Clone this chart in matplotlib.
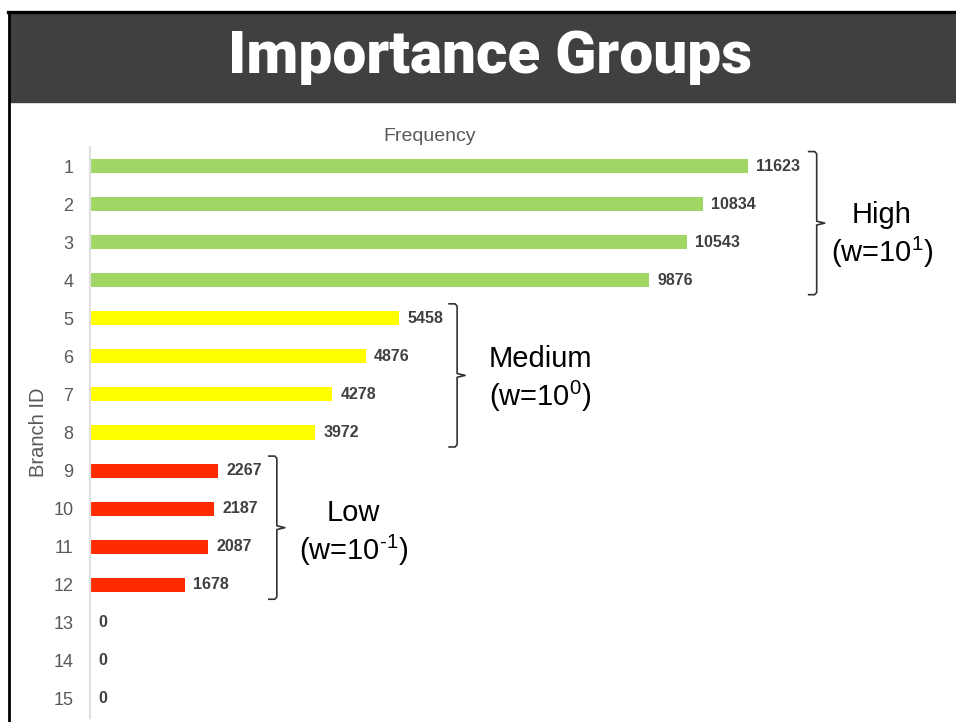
import matplotlib
matplotlib.use("Agg")
import matplotlib.pyplot as plt
from matplotlib.patches import Rectangle
from matplotlib.lines import Line2D

branch_ids = list(range(1, 16))
frequency = [11623, 10834, 10543, 9876, 5458, 4876, 4278, 3972,
             2267, 2187, 2087, 1678, 0, 0, 0]
group_of = ["High"] * 4 + ["Medium"] * 4 + ["Low"] * 4 + [None] * 3

group_names = ["High", "Medium", "Low"]
group_labels = ["High\n(w=10$^{1}$)", "Medium\n(w=10$^{0}$)", "Low\n(w=10$^{\u2010 1}$)"]
group_colors = {"High": "#A0D663", "Medium": "#FFFF00", "Low": "#FF2B00"}

plt.rcParams['font.family'] = ['Liberation Sans', 'DejaVu Sans']
plt.rcParams['mathtext.default'] = 'regular'

W, H = 956, 722
fig = plt.figure(figsize=(W / 100, H / 100), dpi=100)

# slide header and frame
fig.patches.append(Rectangle((10 / W, 1 - 102 / H), 1 - 10 / W, 89 / H,
                             transform=fig.transFigure, color="#404040", zorder=0))
fig.lines.append(Line2D([8 / W, 1], [1 - 12 / H, 1 - 12 / H], transform=fig.transFigure,
                        color="black", lw=2.4))
fig.lines.append(Line2D([9 / W, 9 / W], [1 - 12 / H, 0], transform=fig.transFigure,
                        color="black", lw=2.0))
fig.text(490 / W, 1 - 57 / H, "Importance Groups", color="white", ha="center", va="center",
         fontsize=43.5, fontweight="black", fontstretch="condensed",
         family=["Roboto", "DejaVu Sans"])

ax = fig.add_axes([90 / W, 4 / H, 679 / W, 571 / H])
colors = [group_colors[g] if g else "white" for g in group_of]
ax.barh(branch_ids, frequency, height=0.37, color=colors)
ax.set_xlim(0, 12000)
ax.set_ylim(15.5, 0.5)
ax.set_yticks(branch_ids)
ax.set_yticklabels([str(b) for b in branch_ids])
ax.set_xticks([])
ax.tick_params(axis="y", length=0, pad=12, labelsize=13, labelcolor="#595959")
for side in ["top", "right", "bottom"]:
    ax.spines[side].set_visible(False)
ax.spines["left"].set_color("#E0E0E0")
ax.spines["left"].set_linewidth(1.6)
ax.set_title("Frequency", fontsize=14, color="#595959", pad=4)
ax.set_ylabel("Branch ID", fontsize=14.5, color="#595959", labelpad=4)

# value labels at the end of each bar
for b, v in zip(branch_ids, frequency):
    ax.annotate(str(v), (v, b), xytext=(6, 0), textcoords="offset points",
                ha="left", va="center", fontsize=11.5, fontweight="bold",
                color="#404040")

# braces with group names
brace_gap = [1220, 1030, 1035]
text_offset = [(47, -9), (60, -3), (55, -4)]
px = 12000 / 679  # data units per pixel along x
for name, label, gap, toff in zip(group_names, group_labels, brace_gap, text_offset):
    rows = [b for b, g in zip(branch_ids, group_of) if g == name]
    vals = [v for v, g in zip(frequency, group_of) if g == name]
    xb = max(vals) + gap
    top, bot = rows[0] - 0.38, rows[-1] + 0.38
    mid = (rows[0] + rows[-1]) / 2
    bx = [xb - 8 * px, xb - 2 * px, xb, xb, xb + 8 * px, xb, xb, xb - 2 * px, xb - 8 * px]
    by = [top, top, top + 0.06, mid - 0.05, mid, mid + 0.05, bot - 0.06, bot, bot]
    ax.plot(bx, by, color="#333333", lw=1.2, clip_on=False)
    ax.annotate(label, (xb, mid), xytext=toff, textcoords="offset points",
                ha="center", va="center", fontsize=21, color="black",
                linespacing=1.2, annotation_clip=False)

fig.savefig("out.png", dpi=100)
